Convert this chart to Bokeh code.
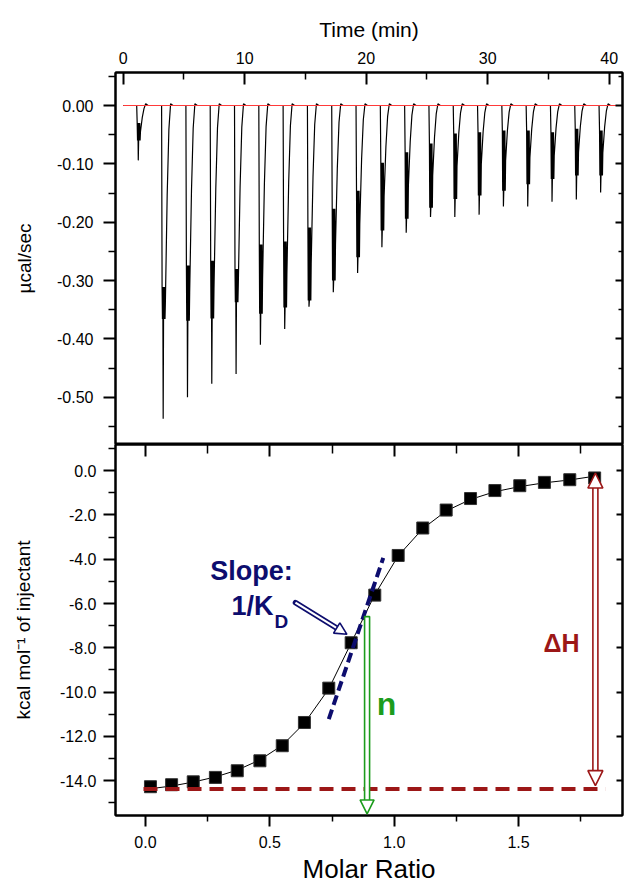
import math
from bokeh.plotting import figure
from bokeh.layouts import column
from bokeh.models import (Range1d, LinearAxis, FixedTicker, NumeralTickFormatter,
                          Label, Arrow, NormalHead)
from bokeh.embed import file_html
from bokeh.resources import INLINE

FONT = "Liberation Sans"

# ---------------- ticks ----------------
time_ticks = [0, 10, 20, 30, 40]
time_minor = [5, 15, 25, 35]
power_ticks = [0.0, -0.1, -0.2, -0.3, -0.4, -0.5]
power_minor = [0.05, -0.05, -0.15, -0.25, -0.35, -0.45, -0.55]
ratio_ticks = [0.0, 0.5, 1.0, 1.5]
ratio_minor = [0.25, 0.75, 1.25, 1.75]
heat_ticks = [0, -2, -4, -6, -8, -10, -12, -14]
heat_minor = [1, -1, -3, -5, -7, -9, -11, -13, -15]

# ---------------- raw thermogram (top) ----------------
inj_time = [1.15, 3.2, 5.2, 7.2, 9.2, 11.2, 13.2, 15.2, 17.2, 19.2,
            21.2, 23.2, 25.2, 27.2, 29.2, 31.2, 33.2, 35.2, 37.2, 39.2]
peak_min = [-0.094, -0.537, -0.500, -0.477, -0.460, -0.410, -0.383, -0.345, -0.320, -0.287,
            -0.243, -0.218, -0.191, -0.191, -0.187, -0.173, -0.173, -0.165, -0.161, -0.149]
peak_hi = [-0.030, -0.311, -0.274, -0.266, -0.280, -0.238, -0.233, -0.209, -0.177, -0.146,
           -0.098, -0.080, -0.065, -0.048, -0.046, -0.043, -0.043, -0.046, -0.040, -0.043]
peak_lo = [-0.060, -0.366, -0.369, -0.365, -0.337, -0.357, -0.346, -0.334, -0.300, -0.260,
           -0.214, -0.194, -0.175, -0.160, -0.154, -0.146, -0.135, -0.126, -0.120, -0.120]
baseline_time = [0.0, 41.09]
baseline_power = [0.0, 0.0]

# ---------------- integrated heats (bottom) ----------------
molar_ratio = [0.020, 0.105, 0.192, 0.281, 0.369, 0.460, 0.550, 0.639, 0.737, 0.827,
               0.922, 1.016, 1.115, 1.209, 1.307, 1.405, 1.505, 1.604, 1.706, 1.806]
heat = [-14.27, -14.18, -14.05, -13.85, -13.55, -13.10, -12.42, -11.37, -9.82, -7.77,
        -5.62, -3.83, -2.59, -1.78, -1.26, -0.90, -0.68, -0.53, -0.41, -0.33]
heat_fit = [-14.36, -14.24, -14.06, -13.83, -13.52, -13.06, -12.40, -11.40, -9.85, -7.78,
            -5.60, -3.85, -2.62, -1.82, -1.30, -0.95, -0.72, -0.55, -0.42, -0.25]

# annotation geometry (data units)
slope_ratio = [0.737, 0.956]
slope_heat = [-11.22, -3.94]
dH_level = [-14.37, -14.37]
dH_level_ratio = [-0.008, 1.85]
n_ratio, n_top, n_tip = 0.891, -6.59, -15.50
dH_ratio, dH_top, dH_bottom = 1.809, -0.11, -14.22
ptr_start = (0.603, -5.96)
ptr_end = (0.810, -7.39)

NAVY = "#0d0d6e"
GREEN = "#1c9c1c"
DRED = "#9c1717"

# ---------------- layout constants ----------------
W = 624
H1, H2 = 444, 443
LEFT, RIGHT = 115, 2
FRAME_H1, FRAME_H2 = 372, 371
FRAME_W = W - LEFT - RIGHT

T_RANGE = (-0.634, 41.09)
P_RANGE = (-0.581, 0.0566)
R_RANGE = (-0.1206, 1.918)
Q_RANGE = (-15.57, 1.18)


def style_axis(ax, size=16, t_in=0, t_out=12, m_in=0, m_out=7, standoff=8, labels=True):
    ax.axis_line_width = 2
    ax.axis_line_color = "black"
    ax.major_tick_line_width = 2
    ax.minor_tick_line_width = 1.5
    ax.major_tick_line_color = "black"
    ax.minor_tick_line_color = "black"
    ax.major_tick_in = t_in
    ax.major_tick_out = t_out
    ax.minor_tick_in = m_in
    ax.minor_tick_out = m_out
    ax.major_label_standoff = standoff
    ax.major_label_text_font = FONT
    if labels:
        ax.major_label_text_color = "black"
        ax.major_label_text_font_size = f"{size}px"
    else:
        ax.major_label_text_color = None
        ax.major_label_text_font_size = "1px"
    ax.axis_label_text_font = FONT
    ax.axis_label_text_font_style = "normal"
    ax.axis_label_text_color = "black"


# ================= top panel =================
p1 = figure(width=W, height=H1, x_range=Range1d(*T_RANGE), y_range=Range1d(*P_RANGE),
            x_axis_location="above", output_backend="svg", toolbar_location=None,
            min_border_left=LEFT, min_border_right=RIGHT, min_border_top=H1 - FRAME_H1,
            min_border_bottom=0)
p1.xgrid.visible = False
p1.ygrid.visible = False
p1.outline_line_color = "black"
p1.outline_line_width = 2

ax = p1.above[0]
ax.ticker = FixedTicker(ticks=time_ticks, minor_ticks=time_minor)
style_axis(ax, size=16, t_in=12, t_out=0, m_in=7, m_out=0, standoff=9)
ax.axis_label = "Time (min)"
ax.axis_label_text_font_size = "21px"
ax.axis_label_standoff = 8

ay = p1.left[0]
ay.ticker = FixedTicker(ticks=power_ticks, minor_ticks=power_minor)
ay.formatter = NumeralTickFormatter(format="0.00")
style_axis(ay, size=16, t_out=12, m_out=7, standoff=10)
ay.axis_label = "µcal/sec"
ay.axis_label_text_font_size = "19px"
ay.axis_label_standoff = 19

ar = LinearAxis(ticker=FixedTicker(ticks=power_ticks, minor_ticks=power_minor))
style_axis(ar, t_in=7, t_out=0, m_in=4, m_out=0, standoff=0, labels=False)
p1.add_layout(ar, "right")

# build the thermogram trace from the per-injection readings
seg_dt = [-0.04, 0.0, 0.03, 0.06, 0.09, 0.12, 0.15, 0.18, 0.21, 0.24, 0.27, 0.42, 0.56, 0.70, 0.90]
tr_t, tr_v = [0.0], [0.0]
for t0, mn, hi, lo in zip(inj_time, peak_min, peak_hi, peak_lo):
    mid = 0.5 * (hi + lo)
    vals = [0.0, hi, lo, hi, mn, lo, hi, lo, hi, lo, mid, 0.45 * mid, 0.12 * mid, 0.003, 0.0]
    tr_t += [t0 + d for d in seg_dt]
    tr_v += vals
tr_t.append(T_RANGE[1])
tr_v.append(0.0)

p1.line(tr_t, tr_v, line_color="black", line_width=1.2)
p1.line(baseline_time, baseline_power, line_color="#ff3a3a", line_width=1.1)

# ================= bottom panel =================
p2 = figure(width=W, height=H2, x_range=Range1d(*R_RANGE), y_range=Range1d(*Q_RANGE),
            output_backend="svg", toolbar_location=None,
            min_border_left=LEFT, min_border_right=RIGHT, min_border_top=0,
            min_border_bottom=H2 - FRAME_H2)
p2.xgrid.visible = False
p2.ygrid.visible = False
p2.outline_line_color = "black"
p2.outline_line_width = 2

bx = p2.below[0]
bx.ticker = FixedTicker(ticks=ratio_ticks, minor_ticks=ratio_minor)
bx.formatter = NumeralTickFormatter(format="0.0")
style_axis(bx, size=16, t_out=11, m_out=6, standoff=9)
bx.axis_label = "Molar Ratio"
bx.axis_label_text_font_size = "26px"
bx.axis_label_standoff = 3

by = p2.left[0]
by.ticker = FixedTicker(ticks=heat_ticks, minor_ticks=heat_minor)
by.formatter = NumeralTickFormatter(format="0.0")
style_axis(by, size=16, t_out=12, m_out=7, standoff=7)
by.axis_label = "kcal mol⁻¹ of injectant"
by.axis_label_text_font_size = "19px"
by.axis_label_standoff = 23

bt = LinearAxis(ticker=FixedTicker(ticks=ratio_ticks, minor_ticks=ratio_minor))
style_axis(bt, t_in=12, t_out=0, m_in=9, m_out=0, standoff=0, labels=False)
p2.add_layout(bt, "above")

br = LinearAxis(ticker=FixedTicker(ticks=heat_ticks, minor_ticks=[]))
style_axis(br, t_in=6, t_out=0, m_in=0, m_out=0, standoff=0, labels=False)
p2.add_layout(br, "right")

ppx_r = FRAME_W / (R_RANGE[1] - R_RANGE[0])
ppy_q = FRAME_H2 / (Q_RANGE[1] - Q_RANGE[0])

p2.line(molar_ratio, heat_fit, line_color="black", line_width=1)
p2.scatter(molar_ratio, heat, marker="square", size=12, fill_color="black",
           line_color="#333333", line_width=1)

# baseline (delta H level)
p2.line(dH_level_ratio, dH_level, line_color=DRED, line_width=4, line_dash="14 8")
# slope line
p2.line(slope_ratio, slope_heat, line_color=NAVY, line_width=4, line_dash="10 5")

# green n arrow (hollow)
HEAD_N = 14
n_shaft_bottom = n_tip + (HEAD_N - 2) / ppy_q
p2.rect(x=[n_ratio], y=[(n_top + n_shaft_bottom) / 2], width=5, width_units="screen",
        height=[n_top - n_shaft_bottom], fill_color="white", line_color=GREEN, line_width=1.6)
p2.add_layout(Arrow(end=NormalHead(size=HEAD_N, fill_color="white", line_color=GREEN, line_width=1.6),
                    x_start=n_ratio, y_start=n_shaft_bottom, x_end=n_ratio, y_end=n_tip,
                    line_alpha=0))

# delta H double arrow (hollow)
HEAD_H = 15
h_shaft_top = dH_top - (HEAD_H - 2) / ppy_q
h_shaft_bottom = dH_bottom + (HEAD_H - 2) / ppy_q
p2.rect(x=[dH_ratio], y=[(h_shaft_top + h_shaft_bottom) / 2], width=5, width_units="screen",
        height=[h_shaft_top - h_shaft_bottom], fill_color="white", line_color=DRED, line_width=1.6)
p2.add_layout(Arrow(start=NormalHead(size=HEAD_H, fill_color="white", line_color=DRED, line_width=1.6),
                    end=NormalHead(size=HEAD_H, fill_color="white", line_color=DRED, line_width=1.6),
                    x_start=dH_ratio, y_start=dH_bottom, x_end=dH_ratio, y_end=dH_top,
                    line_alpha=0))

# navy pointer arrow (hollow)
HEAD_P = 12
dxp = (ptr_end[0] - ptr_start[0]) * ppx_r
dyp = (ptr_end[1] - ptr_start[1]) * ppy_q
L = math.hypot(dxp, dyp)
back = HEAD_P - 2
sh_end = (ptr_end[0] - dxp / L * back / ppx_r, ptr_end[1] - dyp / L * back / ppy_q)
p2.line([ptr_start[0], sh_end[0]], [ptr_start[1], sh_end[1]], line_color=NAVY,
        line_width=5.5, line_cap="round")
p2.line([ptr_start[0], sh_end[0]], [ptr_start[1], sh_end[1]], line_color="white",
        line_width=2.2, line_cap="butt")
p2.add_layout(Arrow(end=NormalHead(size=HEAD_P, fill_color="white", line_color=NAVY, line_width=1.6),
                    x_start=sh_end[0], y_start=sh_end[1], x_end=ptr_end[0], y_end=ptr_end[1],
                    line_alpha=0))

# text annotations
p2.add_layout(Label(x=0.426, y=-4.54, text="Slope:", text_align="center", text_baseline="alphabetic",
                    text_font=FONT, text_font_style="bold", text_font_size="27px", text_color=NAVY))
p2.add_layout(Label(x=0.515, y=-6.11, text="1/K", text_align="right", text_baseline="alphabetic",
                    text_font=FONT, text_font_style="bold", text_font_size="27px", text_color=NAVY))
p2.add_layout(Label(x=0.519, y=-6.79, text="D", text_align="left", text_baseline="alphabetic",
                    text_font=FONT, text_font_style="bold", text_font_size="19px", text_color=NAVY))
p2.add_layout(Label(x=0.969, y=-10.53, text="n", text_align="center", text_baseline="alphabetic",
                    text_font=FONT, text_font_style="bold", text_font_size="32px", text_color=GREEN))
p2.add_layout(Label(x=1.673, y=-7.77, text="ΔH", text_align="center", text_baseline="alphabetic",
                    text_font=FONT, text_font_style="bold", text_font_size="25px", text_color=DRED))

layout = column(p1, p2)
open("out.html", "w").write(file_html(layout, INLINE))
